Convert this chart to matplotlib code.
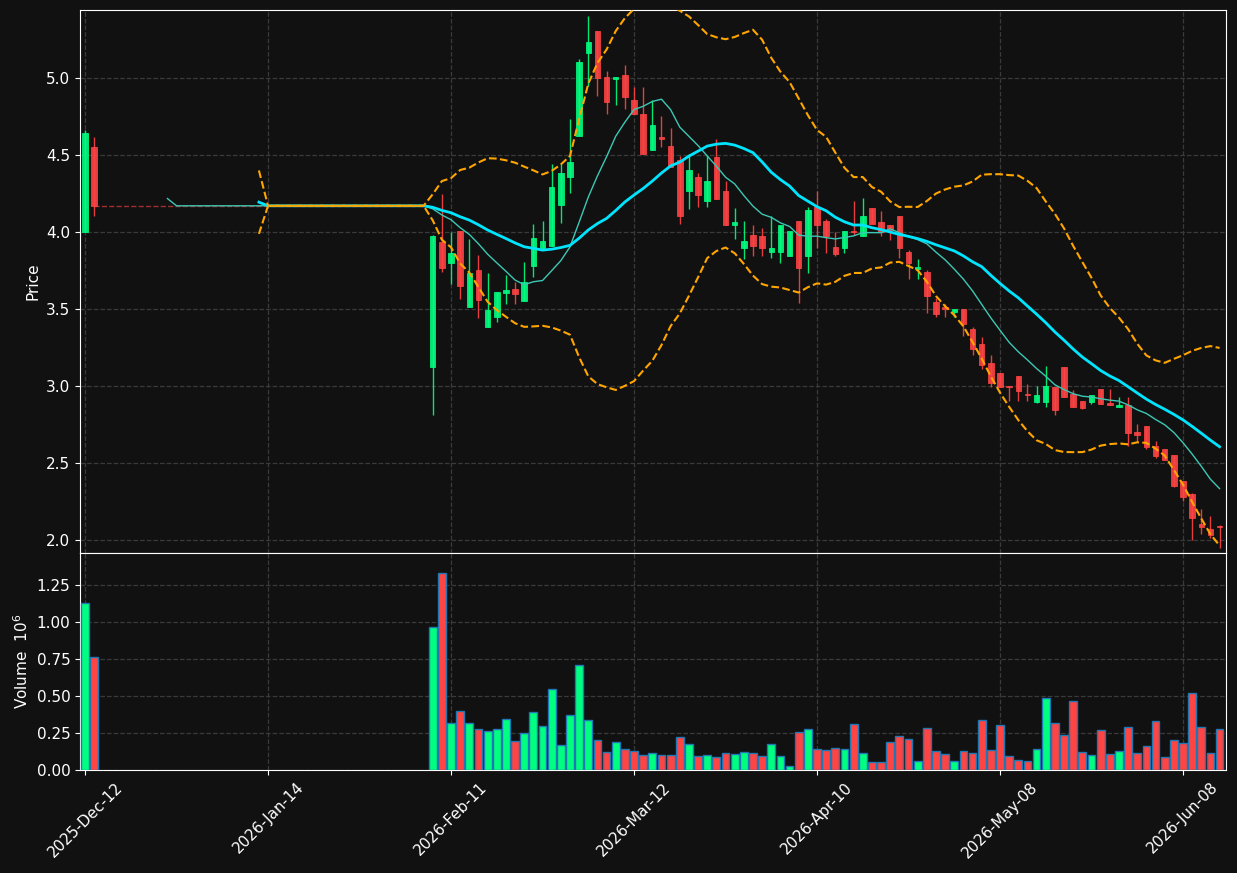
import numpy as np
import pandas as pd
import matplotlib
matplotlib.use("Agg")
import matplotlib.pyplot as plt
from matplotlib.ticker import FormatStrFormatter

nan = np.nan
gap = [nan] * 36   # rows 2..37 have no trades

tickPos = [0, 20, 40, 60, 80, 100, 120]
tickLabels = ["2025-Dec-12", "2026-Jan-14", "2026-Feb-11", "2026-Mar-12",
              "2026-Apr-10", "2026-May-08", "2026-Jun-08"]

opens = [4.00, 4.55] + gap + [
    3.125, 3.937, 3.800, 4.006, 3.509, 3.753, 3.385, 3.450, 3.603, 3.630,
    3.548, 3.781, 3.896, 3.909, 4.175, 4.353, 4.619, 5.158, 5.305, 5.004,
    4.989, 5.015, 4.857, 4.766, 4.528, 4.617, 4.554, 4.463, 4.262, 4.359,
    4.197, 4.487, 4.266, 4.047, 3.898, 3.981, 3.974, 3.866, 3.866, 3.840,
    4.071, 3.840, 4.160, 4.071, 3.903, 3.896, 4.006, 3.970, 4.156, 4.065,
    4.043, 4.104, 3.866, 3.760, 3.740, 3.545, 3.510, 3.481, 3.498, 3.370,
    3.273, 3.147, 3.082, 2.998, 3.065, 2.945, 2.898, 2.898, 2.990, 3.121,
    2.946, 2.905, 2.898, 2.978, 2.887, 2.866, 2.874, 2.700, 2.740, 2.610,
    2.591, 2.552, 2.383, 2.299, 2.106, 2.069, 2.090]
highs = [4.66, 4.615] + gap + [
    3.980, 4.245, 4.002, 4.006, 3.953, 3.849, 3.732, 3.608, 3.719, 3.677,
    3.803, 4.050, 4.071, 4.442, 4.442, 4.732, 5.121, 5.403, 5.305, 5.045,
    5.004, 5.084, 4.937, 4.942, 4.853, 4.753, 4.673, 4.489, 4.506, 4.381,
    4.500, 4.602, 4.331, 4.154, 4.071, 4.043, 4.024, 4.100, 4.045, 4.006,
    4.071, 4.160, 4.262, 4.084, 4.002, 4.006, 4.199, 4.219, 4.156, 4.136,
    4.043, 4.104, 3.883, 3.823, 3.753, 3.569, 3.530, 3.498, 3.498, 3.385,
    3.320, 3.201, 3.082, 2.998, 3.065, 3.011, 3.000, 3.130, 2.990, 3.121,
    2.974, 2.905, 2.940, 2.978, 2.978, 2.931, 2.931, 2.751, 2.740, 2.642,
    2.591, 2.552, 2.383, 2.308, 2.199, 2.158, 2.100]
lows = [4.00, 4.104] + gap + [
    2.810, 3.738, 3.660, 3.563, 3.509, 3.440, 3.385, 3.413, 3.530, 3.530,
    3.548, 3.710, 3.883, 3.909, 4.056, 4.251, 4.619, 4.944, 4.879, 4.764,
    4.820, 4.799, 4.762, 4.502, 4.528, 4.550, 4.420, 4.052, 4.147, 4.160,
    4.160, 4.210, 4.047, 3.952, 3.823, 3.846, 3.846, 3.829, 3.801, 3.840,
    3.541, 3.732, 3.894, 3.862, 3.846, 3.862, 3.981, 3.970, 4.048, 3.976,
    3.948, 3.833, 3.693, 3.697, 3.472, 3.450, 3.450, 3.447, 3.325, 3.200,
    3.108, 2.992, 2.992, 2.905, 2.905, 2.900, 2.888, 2.861, 2.810, 2.925,
    2.866, 2.850, 2.883, 2.883, 2.878, 2.866, 2.610, 2.638, 2.589, 2.532,
    2.520, 2.343, 2.255, 2.000, 2.039, 2.013, 1.946]
closes = [4.641, 4.169] + gap + [
    3.974, 3.768, 3.862, 3.651, 3.732, 3.560, 3.494, 3.608, 3.623, 3.597,
    3.673, 3.961, 3.942, 4.292, 4.381, 4.452, 5.100, 5.234, 5.000, 4.840,
    5.004, 4.872, 4.762, 4.502, 4.695, 4.600, 4.420, 4.100, 4.403, 4.240,
    4.331, 4.210, 4.047, 4.065, 3.942, 3.909, 3.898, 3.896, 4.045, 4.006,
    3.768, 4.143, 4.047, 3.970, 3.857, 4.006, 4.000, 4.104, 4.048, 4.002,
    4.013, 3.894, 3.799, 3.773, 3.584, 3.468, 3.500, 3.498, 3.400, 3.238,
    3.138, 3.018, 2.996, 2.990, 2.970, 2.940, 2.940, 3.000, 2.844, 2.931,
    2.866, 2.856, 2.940, 2.883, 2.878, 2.875, 2.697, 2.680, 2.606, 2.545,
    2.520, 2.353, 2.277, 2.145, 2.087, 2.035, 2.087]
# volume in millions of shares
volumes = [1.13, 0.765] + gap + [
    0.966, 1.330, 0.318, 0.400, 0.318, 0.277, 0.261, 0.277, 0.345, 0.195,
    0.250, 0.393, 0.298, 0.545, 0.168, 0.373, 0.707, 0.339, 0.202, 0.120,
    0.189, 0.141, 0.127, 0.100, 0.114, 0.100, 0.100, 0.223, 0.175, 0.093,
    0.100, 0.086, 0.114, 0.107, 0.120, 0.114, 0.093, 0.175, 0.093, 0.025,
    0.257, 0.277, 0.141, 0.134, 0.148, 0.141, 0.311, 0.114, 0.052, 0.052,
    0.189, 0.230, 0.209, 0.059, 0.284, 0.127, 0.107, 0.059, 0.127, 0.114,
    0.339, 0.134, 0.305, 0.093, 0.066, 0.059, 0.141, 0.489, 0.318, 0.236,
    0.468, 0.120, 0.100, 0.270, 0.107, 0.127, 0.291, 0.114, 0.161, 0.332,
    0.086, 0.202, 0.182, 0.523, 0.291, 0.114, 0.277]

upColor = "#00ff80"
downColor = "#ff4444"
bg = "#111111"

df = pd.DataFrame({"open": opens, "high": highs, "low": lows,
                   "close": closes, "volume": volumes})
x = np.arange(len(df))

# indicators on forward-filled closes
filled = df["close"].ffill()
ma10 = filled.rolling(10).mean()
ma20 = filled.rolling(20).mean()
std20 = filled.rolling(20).std(ddof=0)
upper = ma20 + 2 * std20
lower = ma20 - 2 * std20

fig = plt.figure(figsize=(12.37, 8.73), dpi=100, facecolor=bg)
ax = fig.add_axes([0.0647, 0.3666, 0.9264, 0.622])
axv = fig.add_axes([0.0647, 0.118, 0.9264, 0.2486], sharex=ax)

up = df["close"] >= df["open"]
colors = np.where(up, upColor, downColor)
valid = df["open"].notna().values

# gap line
gapIdx = np.arange(1, 38)
ax.plot(gapIdx, filled[gapIdx], ls="--", color=downColor, lw=1, alpha=0.6, zorder=2)

# candles
ax.vlines(x[valid], df["low"][valid], df["high"][valid],
          colors=colors[valid], lw=1, alpha=0.9, zorder=3)
bodyLow = np.minimum(df["open"], df["close"])
bodyH = (df["close"] - df["open"]).abs()
ax.bar(x[valid], bodyH[valid], bottom=bodyLow[valid], width=0.6,
       color=colors[valid], edgecolor=colors[valid], lw=0.6, alpha=0.9, zorder=3)

ax.plot(x, ma10, color="#3cc8b4", lw=1, zorder=4)
ax.plot(x, ma20, color="#00e5ff", lw=2, zorder=4)
ax.plot(x, upper, color="#ffa500", lw=1.5, ls="--", zorder=5)
ax.plot(x, lower, color="#ffa500", lw=1.5, ls="--", zorder=5)

# volume
axv.bar(x[valid], df["volume"][valid], width=0.85, color=colors[valid],
        edgecolor="#1f77b4", lw=1, zorder=3)

for a in (ax, axv):
    a.set_facecolor(bg)
    for s in a.spines.values():
        s.set_color("white")
    a.grid(True, ls="--", color="#3a3a3a", lw=0.9, zorder=0)
    a.tick_params(colors="white", labelsize=11)

ax.set_xlim(-0.55, 124.7)
ax.set_ylim(1.916, 5.44)
ax.set_yticks([2.0, 2.5, 3.0, 3.5, 4.0, 4.5, 5.0])
ax.yaxis.set_major_formatter(FormatStrFormatter("%.1f"))
ax.tick_params(axis="x", length=0, labelbottom=False)
ax.set_ylabel("Price", color="white", fontsize=11)

axv.set_ylim(0, 1.466)
axv.set_yticks([0, 0.25, 0.5, 0.75, 1.0, 1.25])
axv.yaxis.set_major_formatter(FormatStrFormatter("%.2f"))
axv.set_xticks(tickPos)
axv.set_xticklabels(tickLabels, rotation=45)
axv.set_ylabel("Volume  $10^6$", color="white", fontsize=11)

fig.savefig("out.png", dpi=100, facecolor=bg)
